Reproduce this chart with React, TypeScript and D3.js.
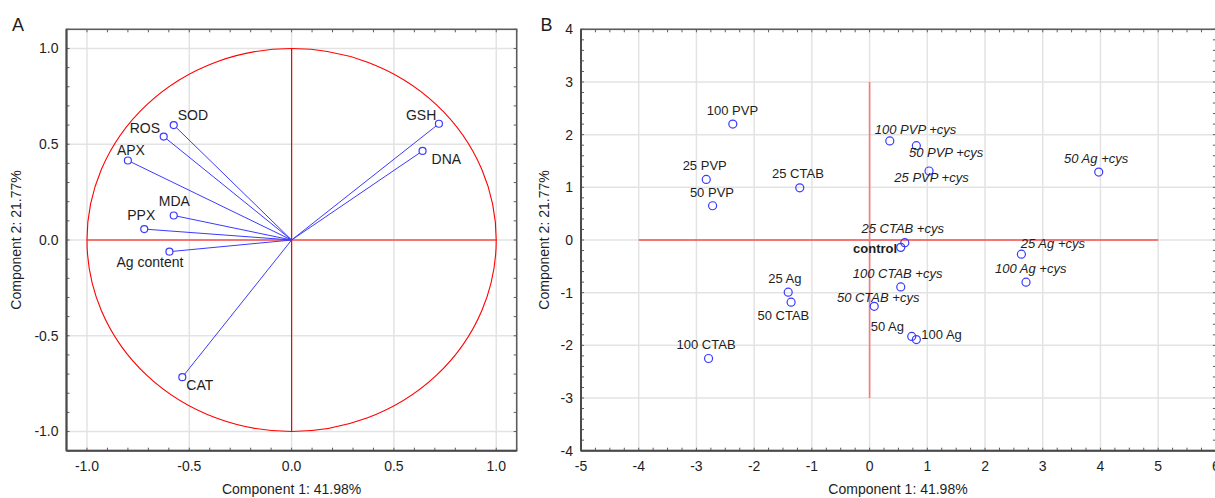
import React, { useEffect } from "react";
import * as d3 from "d3";

// ---------- Data ----------
// Panel A: variable loadings
const loadingNames = ["GSH", "DNA", "SOD", "ROS", "APX", "MDA", "PPX", "Ag content", "CAT"];
const loadingPC1 = [0.72, 0.64, -0.576, -0.625, -0.8, -0.576, -0.72, -0.597, -0.534];
const loadingPC2 = [0.607, 0.465, 0.6, 0.54, 0.415, 0.128, 0.057, -0.061, -0.716];

// Panel B: sample scores
const sampleNames = [
  "100 PVP", "25 PVP", "50 PVP", "25 CTAB", "100 PVP +cys", "50 PVP +cys", "25 PVP +cys",
  "50 Ag +cys", "25 CTAB +cys", "control", "25 Ag +cys", "100 Ag +cys", "100 CTAB +cys",
  "50 CTAB +cys", "50 Ag", "100 Ag", "25 Ag", "50 CTAB", "100 CTAB",
];
const scorePC1 = [-2.37, -2.83, -2.72, -1.21, 0.35, 0.81, 1.03, 3.97, 0.61, 0.54, 2.63, 2.71, 0.54, 0.08, 0.73, 0.81, -1.41, -1.36, -2.79];
const scorePC2 = [2.2, 1.15, 0.65, 0.99, 1.88, 1.79, 1.31, 1.29, -0.05, -0.14, -0.27, -0.8, -0.89, -1.26, -1.83, -1.89, -0.99, -1.18, -2.25];

// Tick labels
const ticksA = [-1.0, -0.5, 0.0, 0.5, 1.0];
const tickLabelsA = ["-1.0", "-0.5", "0.0", "0.5", "1.0"];
const ticksBX = [-5, -4, -3, -2, -1, 0, 1, 2, 3, 4, 5, 6];
const ticksBY = [-4, -3, -2, -1, 0, 1, 2, 3, 4];

const xTitle = "Component 1: 41.98%";
const yTitle = "Component 2: 21.77%";

// ---------- Layout (label placement offsets in px) ----------
const labelOffsetsA: Record<string, [number, number]> = {
  GSH: [-33, -4],
  DNA: [9, 13],
  SOD: [4, -5],
  ROS: [-34, -4],
  APX: [-11, -6],
  MDA: [-15, -9],
  PPX: [-17, -9],
  "Ag content": [-53, 15],
  CAT: [4, 13],
};
const labelOffsetsB: Record<string, [number, number]> = {
  "100 PVP": [-26, -9],
  "25 PVP": [-23.6, -9.3],
  "50 PVP": [-22.7, -8.4],
  "25 CTAB": [-27.7, -9.4],
  "100 PVP +cys": [-15, -7.4],
  "50 PVP +cys": [-7.4, 11],
  "25 PVP +cys": [-34.7, 11],
  "50 Ag +cys": [-34.7, -8.7],
  "25 CTAB +cys": [-43.3, -9.4],
  control: [-47.7, 6],
  "25 Ag +cys": [-0.6, -6.6],
  "100 Ag +cys": [-31, -9],
  "100 CTAB +cys": [-48, -8.7],
  "50 CTAB +cys": [-37.3, -4.3],
  "50 Ag": [-41, -5],
  "100 Ag": [5, -0.7],
  "25 Ag": [-20, -9.3],
  "50 CTAB": [-33.6, 17.7],
  "100 CTAB": [-32, -9.4],
};

const FONT = "'Liberation Sans', Arial, sans-serif";
const TEXT = "#1e1e1e";
const GRID = "#e3e3e3";
const FRAME = "#5c5c5c";
const BLUE = "#3a3aff";
const RED = "#ff0000";

type PanelProps = {
  x: d3.ScaleLinear<number, number>;
  y: d3.ScaleLinear<number, number>;
  xt: number[];
  yt: number[];
  xl: string[];
  yl: string[];
  xMinorStep: number;
  yMinorStep: number;
  titleX: number;
};

function Frame({ x, y, xt, yt, xl, yl, xMinorStep, yMinorStep, titleX }: PanelProps) {
  const [x0, x1] = x.range();
  const [y0, y1] = y.range(); // y0 bottom, y1 top
  const [dx0, dx1] = x.domain();
  const [dy0, dy1] = y.domain();
  const xMinor = d3.range(Math.ceil(dx0 / xMinorStep) * xMinorStep, dx1 + 1e-9, xMinorStep);
  const yMinor = d3.range(Math.ceil(dy0 / yMinorStep) * yMinorStep, dy1 + 1e-9, yMinorStep);
  const tl = 3;
  return (
    <g>
      {xt.map((v) => (
        <line key={"gx" + v} x1={x(v)} x2={x(v)} y1={y0} y2={y1} stroke={GRID} strokeWidth={1.5} />
      ))}
      {yt.map((v) => (
        <line key={"gy" + v} x1={x0} x2={x1} y1={y(v)} y2={y(v)} stroke={GRID} strokeWidth={1.5} />
      ))}
      {xMinor.map((v, i) => (
        <g key={"mx" + i}>
          <line x1={x(v)} x2={x(v)} y1={y0} y2={y0 - tl} stroke={FRAME} strokeWidth={1} />
          <line x1={x(v)} x2={x(v)} y1={y1} y2={y1 + tl} stroke={FRAME} strokeWidth={1} />
        </g>
      ))}
      {yMinor.map((v, i) => (
        <g key={"my" + i}>
          <line x1={x0} x2={x0 + tl} y1={y(v)} y2={y(v)} stroke={FRAME} strokeWidth={1} />
          <line x1={x1} x2={x1 - tl} y1={y(v)} y2={y(v)} stroke={FRAME} strokeWidth={1} />
        </g>
      ))}
      {xt.map((v, i) => (
        <text key={"tx" + v} x={x(v)} y={471} textAnchor="middle" fontSize={14} fontFamily={FONT} fill={TEXT}>
          {xl[i]}
        </text>
      ))}
      {yt.map((v, i) => (
        <text key={"ty" + v} x={x0 - 8} y={y(v)} dy="0.35em" textAnchor="end" fontSize={14} fontFamily={FONT} fill={TEXT}>
          {yl[i]}
        </text>
      ))}
      <text x={(x0 + Math.min(x1, 1215)) / 2 + (titleX || 0)} y={494} textAnchor="middle" fontSize={14} fontFamily={FONT} fill={TEXT}>
        {xTitle}
      </text>
    </g>
  );
}

function Border({ x, y }: { x: d3.ScaleLinear<number, number>; y: d3.ScaleLinear<number, number> }) {
  const [x0, x1] = x.range();
  const [y0, y1] = y.range();
  return (
    <g>
      <rect x={x0} y={y1} width={x1 - x0} height={y0 - y1} fill="none" stroke={FRAME} strokeWidth={1.6} />
      <line x1={x0} x2={x1} y1={y0} y2={y0} stroke="#4a4a4a" strokeWidth={2} />
      <line x1={x0} x2={x0} y1={y0} y2={y1} stroke="#4a4a4a" strokeWidth={2} />
    </g>
  );
}

export default function App() {
  useEffect(() => {
    document.body.style.margin = "0";
  }, []);

  const W = 1215;
  const H = 498;

  // Panel A scales
  const xA = d3.scaleLinear().domain([-1.1, 1.1]).range([66.5, 516.7]);
  const yA = d3.scaleLinear().domain([-1.1, 1.1]).range([450.7, 29.3]);
  // Panel B scales
  const xB = d3.scaleLinear().domain([-5, 6]).range([581, 1215.9]);
  const yB = d3.scaleLinear().domain([-4, 4]).range([450.7, 29.3]);

  const loadings = loadingNames.map((n, i) => ({ name: n, pc1: loadingPC1[i], pc2: loadingPC2[i] }));
  const samples = sampleNames.map((n, i) => ({ name: n, pc1: scorePC1[i], pc2: scorePC2[i] }));

  const ticksBXLabels = ticksBX.map((v) => String(v));
  const ticksBYLabels = ticksBY.map((v) => String(v));

  return (
    <svg width={W} height={H} style={{ display: "block", position: "absolute", left: 0, top: 0, background: "#fff" }}>
      <rect x={0} y={0} width={W} height={H} fill="#fff" />

      {/* ---------- Panel A ---------- */}
      <text x={12} y={31} fontSize={18} fontFamily={FONT} fill={TEXT}>A</text>
      <Frame x={xA} y={yA} xt={ticksA} yt={ticksA} xl={tickLabelsA} yl={tickLabelsA} xMinorStep={0.1} yMinorStep={0.1} titleX={0} />
      <text
        transform={`translate(21, ${(29.3 + 450.7) / 2}) rotate(-90)`}
        textAnchor="middle"
        fontSize={14}
        fontFamily={FONT}
        fill={TEXT}
      >
        {yTitle}
      </text>
      {/* red cross & circle */}
      <line x1={xA(-1)} x2={xA(1)} y1={yA(0)} y2={yA(0)} stroke={RED} strokeWidth={1.2} />
      <line x1={xA(0)} x2={xA(0)} y1={yA(-1)} y2={yA(1)} stroke={RED} strokeWidth={1.2} />
      <ellipse
        cx={xA(0)}
        cy={yA(0)}
        rx={xA(1) - xA(0)}
        ry={yA(0) - yA(1)}
        fill="none"
        stroke={RED}
        strokeWidth={1.1}
      />
      {loadings.map((d) => (
        <line key={"ll" + d.name} x1={xA(0)} y1={yA(0)} x2={xA(d.pc1)} y2={yA(d.pc2)} stroke={BLUE} strokeWidth={1} />
      ))}
      {loadings.map((d) => (
        <circle key={"lc" + d.name} cx={xA(d.pc1)} cy={yA(d.pc2)} r={3.5} fill="#fff" stroke={BLUE} strokeWidth={1.2} />
      ))}
      {loadings.map((d) => {
        const off = labelOffsetsA[d.name] || [4, -4];
        return (
          <text key={"lt" + d.name} x={xA(d.pc1) + off[0]} y={yA(d.pc2) + off[1]} fontSize={14} fontFamily={FONT} fill={TEXT}>
            {d.name}
          </text>
        );
      })}
      <Border x={xA} y={yA} />

      {/* ---------- Panel B ---------- */}
      <text x={540.5} y={31} fontSize={18} fontFamily={FONT} fill={TEXT}>B</text>
      <Frame
        x={xB}
        y={yB}
        xt={ticksBX}
        yt={ticksBY}
        xl={ticksBXLabels}
        yl={ticksBYLabels}
        xMinorStep={0.25}
        yMinorStep={0.2}
        titleX={0}
      />
      <text
        transform={`translate(548.5, ${(29.3 + 450.7) / 2}) rotate(-90)`}
        textAnchor="middle"
        fontSize={14}
        fontFamily={FONT}
        fill={TEXT}
      >
        {yTitle}
      </text>
      <line x1={xB(-4)} x2={xB(5)} y1={yB(0)} y2={yB(0)} stroke={RED} strokeWidth={1.2} />
      <line x1={xB(0)} x2={xB(0)} y1={yB(-3)} y2={yB(3)} stroke="#ff7878" strokeWidth={1.6} />
      {samples.map((d) => (
        <circle key={"sc" + d.name} cx={xB(d.pc1)} cy={yB(d.pc2)} r={4} fill="none" stroke={BLUE} strokeWidth={1.2} />
      ))}
      {samples.map((d) => {
        const off = labelOffsetsB[d.name] || [4, -6];
        const isCys = d.name.includes("+cys");
        const isControl = d.name === "control";
        return (
          <text
            key={"st" + d.name}
            x={xB(d.pc1) + off[0]}
            y={yB(d.pc2) + off[1]}
            fontSize={13}
            fontFamily={FONT}
            fontStyle={isCys ? "italic" : "normal"}
            fontWeight={isControl ? "bold" : "normal"}
            fill={TEXT}
          >
            {d.name}
          </text>
        );
      })}
      <Border x={xB} y={yB} />
    </svg>
  );
}
